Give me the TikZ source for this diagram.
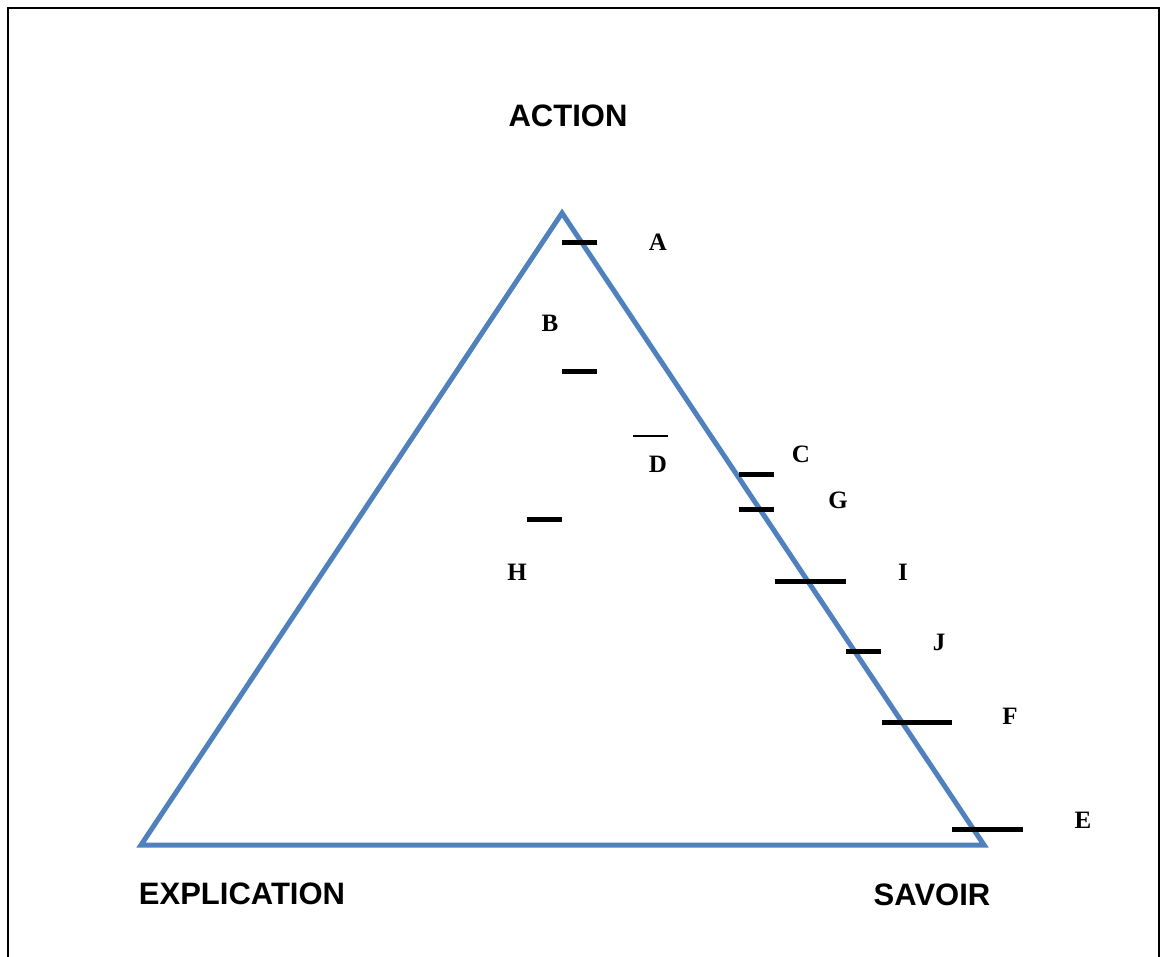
\documentclass[tikz,border=0pt]{standalone}
\usepackage{fontspec}
\setmainfont{Liberation Serif}
\newfontfamily\headfont{Liberation Sans}
\definecolor{triblue}{HTML}{4F81BD}
\begin{document}
\begin{tikzpicture}[x=1pt,y=-1pt,
  pole/.style={font=\headfont\bfseries\fontsize{31}{31}\selectfont, inner sep=0pt},
  tag/.style={font=\bfseries\fontsize{25}{25}\selectfont, inner sep=0pt},
  bar/.style={line width=5pt, black},
  thinbar/.style={line width=1.5pt, black},
  side/.style={line width=5pt, triblue, line join=miter}]
  \useasboundingbox (0,0) rectangle (1161,957);
  % open frame
  \draw[line width=2.5pt] (8,970) -- (8,8) -- (1159,8) -- (1159,970);

  % corners of the triangle
  \coordinate (top) at (562,213);
  \coordinate (left) at (141,845);
  \coordinate (right) at (984,845);
  \draw[side] (top) -- (right) -- (left) -- cycle;

  % pole labels
  \node[pole] (action) at (568,116) {ACTION};
  \node[pole] (explication) at (242,894) {EXPLICATION};
  \node[pole] (savoir) at (932,895) {SAVOIR};

  % marks
  \draw[bar] (562,243) -- (597,243);
  \node[tag] (A) at (658,242) {A};
  \draw[bar] (562,371) -- (597,371);
  \node[tag] (B) at (550,323) {B};
  \draw[thinbar] (633,436) -- (668,436);
  \node[tag] (D) at (658,464) {D};
  \draw[bar] (739,474) -- (774,474);
  \node[tag] (C) at (801,454) {C};
  \draw[bar] (739,509) -- (774,509);
  \node[tag] (G) at (838,500) {G};
  \draw[bar] (527,519) -- (562,519);
  \node[tag] (H) at (517,572) {H};
  \draw[bar] (775,581) -- (846,581);
  \node[tag] (I) at (903,572) {I};
  \draw[bar] (846,651) -- (881,651);
  \node[tag] (J) at (939,642) {J};
  \draw[bar] (882,722) -- (952,722);
  \node[tag] (F) at (1010,716) {F};
  \draw[bar] (952,829) -- (1023,829);
  \node[tag] (E) at (1083,820) {E};
\end{tikzpicture}
\end{document}
